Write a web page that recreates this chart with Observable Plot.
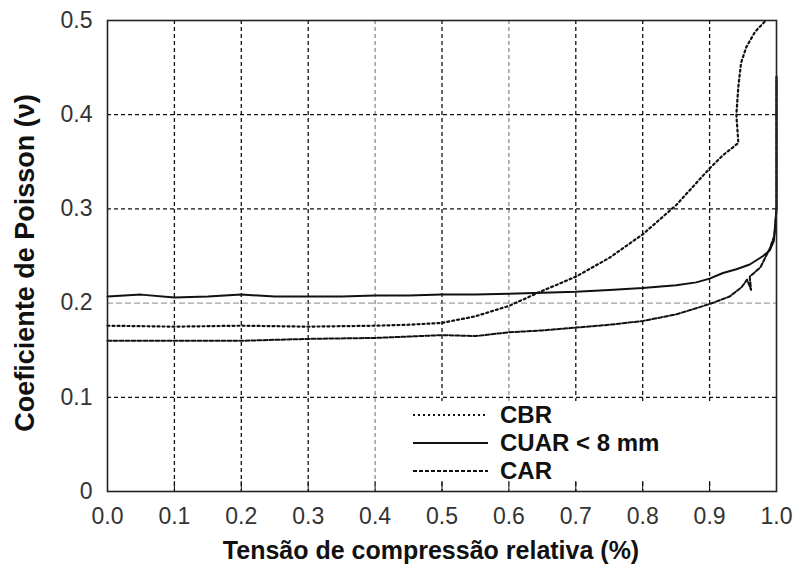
<!DOCTYPE html>
<html>
<head>
<meta charset="utf-8">
<script src="https://cdn.jsdelivr.net/npm/d3@7"></script>
<script src="https://cdn.jsdelivr.net/npm/@observablehq/plot@0.6"></script>
<style>
  body { margin: 0; background: #fff; }
  #chart { position: relative; width: 796px; height: 572px; font-family: "Liberation Sans", Arial, sans-serif; }
  #legend-bg { position: absolute; left: 401px; top: 401px; width: 372px; height: 79px; background: #fff; }
  #legend { position: absolute; left: 401px; top: 396px; overflow: visible; }
  #legend text { font-family: "Liberation Sans", Arial, sans-serif; font-weight: bold; font-size: 24px; fill: #111; }
</style>
</head>
<body>
<div id="chart"></div>
<script>
// Poisson's ratio versus relative compressive stress for three concretes
const seriesNames = ["CBR", "CUAR < 8 mm", "CAR"];

const cbrX = [0, 0.1, 0.2, 0.3, 0.4, 0.45, 0.5, 0.55, 0.6, 0.65, 0.7, 0.75, 0.8, 0.85, 0.9, 0.92, 0.943, 0.94, 0.943, 0.947, 0.955, 0.968, 0.984];
const cbrY = [0.176, 0.175, 0.176, 0.175, 0.176, 0.177, 0.179, 0.186, 0.197, 0.213, 0.228, 0.248, 0.273, 0.304, 0.343, 0.357, 0.370, 0.400, 0.430, 0.455, 0.472, 0.488, 0.500];

const cuarX = [0, 0.05, 0.1, 0.15, 0.2, 0.25, 0.3, 0.35, 0.4, 0.45, 0.5, 0.55, 0.6, 0.65, 0.7, 0.75, 0.8, 0.85, 0.88, 0.9, 0.92, 0.94, 0.96, 0.98, 0.99, 0.996, 1.0, 1.0];
const cuarY = [0.207, 0.209, 0.206, 0.207, 0.209, 0.207, 0.207, 0.207, 0.208, 0.208, 0.209, 0.209, 0.210, 0.211, 0.212, 0.214, 0.216, 0.219, 0.222, 0.226, 0.232, 0.236, 0.241, 0.250, 0.256, 0.266, 0.300, 0.440];

const carX = [0, 0.1, 0.2, 0.3, 0.4, 0.5, 0.55, 0.6, 0.65, 0.7, 0.75, 0.8, 0.85, 0.9, 0.93, 0.948, 0.956, 0.962, 0.96, 0.976, 0.99, 0.997, 1.0, 1.0];
const carY = [0.160, 0.160, 0.160, 0.162, 0.163, 0.166, 0.165, 0.169, 0.171, 0.174, 0.177, 0.181, 0.188, 0.199, 0.207, 0.217, 0.225, 0.214, 0.228, 0.238, 0.258, 0.272, 0.300, 0.440];

const xTicks = [0, 0.1, 0.2, 0.3, 0.4, 0.5, 0.6, 0.7, 0.8, 0.9, 1.0];
const yTicks = [0, 0.1, 0.2, 0.3, 0.4, 0.5];
const gridXDark = [0.1, 0.2, 0.3, 0.5, 0.7, 0.8, 0.9];
const gridXLight = [0.4, 0.6];
const gridYDark = [0.1, 0.3, 0.4];
const gridYLight = [0.2];

const toRows = (xs, ys) => xs.map((x, i) => ({x, y: ys[i]}));
const cbr = toRows(cbrX, cbrY);
const cuar = toRows(cuarX, cuarY);
const car = toRows(carX, carY);

const lineStyles = [
  {strokeDasharray: "2,3", strokeWidth: 2.2},
  {strokeDasharray: null, strokeWidth: 2},
  {strokeDasharray: "4,2", strokeWidth: 2}
];

const plot = Plot.plot({
  width: 796,
  height: 572,
  marginLeft: 107,
  marginRight: 20,
  marginTop: 20,
  marginBottom: 81,
  style: {fontFamily: "Liberation Sans, Arial, sans-serif", fontSize: "22px", background: "#fff", color: "#333"},
  x: {domain: [0, 1]},
  y: {domain: [0, 0.5]},
  marks: [
    Plot.ruleX(gridXDark, {stroke: "#111", strokeDasharray: "4,3", strokeWidth: 1.3}),
    Plot.ruleX(gridXLight, {stroke: "#777", strokeDasharray: "4,3", strokeWidth: 1.1}),
    Plot.ruleY(gridYDark, {stroke: "#111", strokeDasharray: "4,3", strokeWidth: 1.3}),
    Plot.ruleY(gridYLight, {stroke: "#888", strokeDasharray: "6,3", strokeWidth: 1}),
    Plot.line(cbr, {x: "x", y: "y", stroke: "#111", ...lineStyles[0]}),
    Plot.line(cuar, {x: "x", y: "y", stroke: "#111", ...lineStyles[1]}),
    Plot.line(car, {x: "x", y: "y", stroke: "#111", ...lineStyles[2]}),
    Plot.axisX(xTicks, {tickSize: -10, tickPadding: 26, tickFormat: d => d.toFixed(1), label: null, fontSize: 23, fill: "#333", stroke: "#111"}),
    Plot.axisY(yTicks, {tickSize: 0, tickPadding: 15, tickFormat: d => d === 0 ? "0" : d.toFixed(1), label: null, fontSize: 23, fill: "#333"}),
    Plot.frame({stroke: "#222", strokeWidth: 1.6}),
    Plot.text(["Tensão de compressão relativa (%)"], {text: d => d, frameAnchor: "bottom", dy: 67, dx: -11, fontWeight: "bold", fontSize: 25, fill: "#111"}),
    Plot.text(["Coeficiente de Poisson (ν)"], {text: d => d, frameAnchor: "left", rotate: -90, textAnchor: "middle", dx: -82, dy: 7, fontWeight: "bold", fontSize: 27, fill: "#111"})
  ]
});

const chart = document.getElementById("chart");
chart.appendChild(plot);

// Legend panel inside the lower-right corner of the plot
const legendBg = document.createElement("div");
legendBg.id = "legend-bg";
chart.appendChild(legendBg);

const svgNS = "http://www.w3.org/2000/svg";
const lsvg = document.createElementNS(svgNS, "svg");
lsvg.id = "legend";
lsvg.setAttribute("width", 372);
lsvg.setAttribute("height", 96);
seriesNames.forEach((name, i) => {
  const cy = 19 + i * 28;
  const ln = document.createElementNS(svgNS, "line");
  ln.setAttribute("x1", 12); ln.setAttribute("x2", 87);
  ln.setAttribute("y1", cy); ln.setAttribute("y2", cy);
  ln.setAttribute("stroke", "#111");
  ln.setAttribute("stroke-width", lineStyles[i].strokeWidth);
  if (lineStyles[i].strokeDasharray) ln.setAttribute("stroke-dasharray", lineStyles[i].strokeDasharray);
  lsvg.appendChild(ln);
  const tx = document.createElementNS(svgNS, "text");
  tx.setAttribute("x", 99);
  tx.setAttribute("y", cy);
  tx.setAttribute("dy", "0.35em");
  tx.textContent = name;
  lsvg.appendChild(tx);
});
chart.appendChild(lsvg);
</script>
</body>
</html>
